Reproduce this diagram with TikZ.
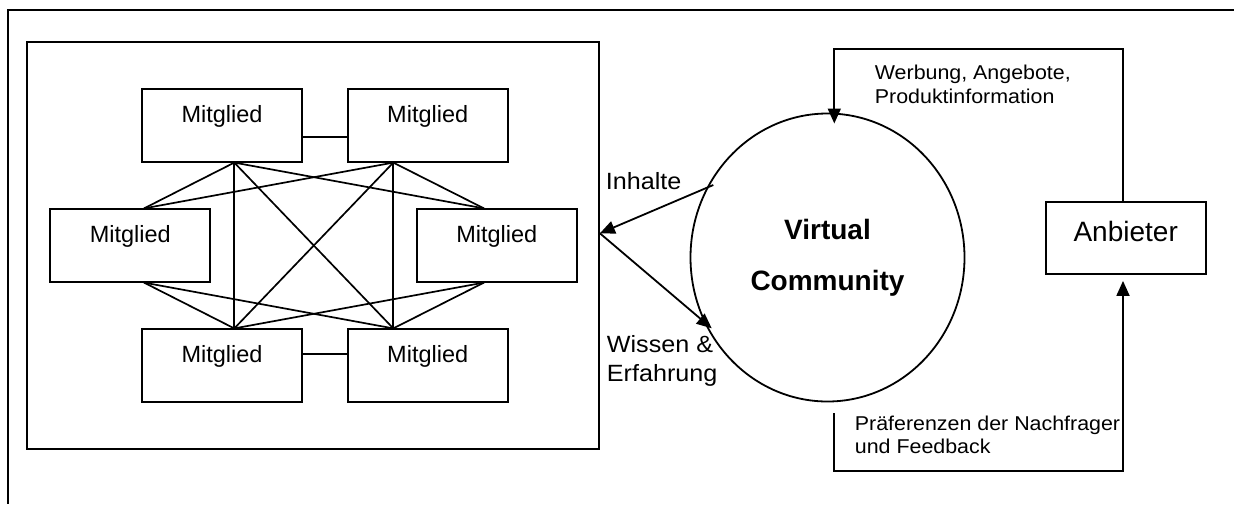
\documentclass[tikz,border=0pt]{standalone}
\usepackage{fontspec}
\setmainfont{Liberation Sans}
\newfontfamily\widefont[FakeStretch=1.07]{Liberation Sans}
\usetikzlibrary{arrows.meta,shapes.geometric}
\begin{document}
\begin{tikzpicture}[x=1pt,y=-1pt,
  line width=1.8pt,
  arr/.style={-{Triangle[length=15pt,width=13pt]}},
  mbox/.style={draw, rectangle, minimum width=160pt, minimum height=72.4pt,
    inner sep=0pt, font=\fontsize{23.5}{28}\selectfont,
    text height=17pt, text depth=22.6pt},
  abox/.style={draw, rectangle, minimum width=160pt, minimum height=71.7pt,
    inner sep=0pt, font=\fontsize{28}{32}\selectfont,
    text height=20pt, text depth=14.3pt},
  mesh/.style={line width=1.7pt},
  bigtxt/.style={inner sep=0pt, align=left, font=\widefont\fontsize{23.5}{28.3}\selectfont},
  smalltxt/.style={inner sep=0pt, align=left, font=\widefont\fontsize{20}{23.2}\selectfont}
]
\useasboundingbox (0,0) rectangle (1234,504);

% outer frame (open to the right and bottom)
\draw[line width=2pt] (1234,10) -- (8.3,10) -- (8.3,504);

% member group
\node[draw, rectangle, minimum width=572pt, minimum height=407.6pt, inner sep=0pt] (grp) at (313,245.5) {};

\node[mbox] (m1) at (222,125.5) {Mitglied};
\node[mbox] (m2) at (427.7,125.5) {Mitglied};
\node[mbox] (m3) at (130.3,245.5) {Mitglied};
\node[mbox] (m4) at (496.8,245.5) {Mitglied};
\node[mbox] (m5) at (222,365.5) {Mitglied};
\node[mbox] (m6) at (427.7,365.5) {Mitglied};

% attachment points
\coordinate (p1) at ([xshift=12.3pt]m1.south);
\coordinate (p2) at ([xshift=-34.4pt]m2.south);
\coordinate (p3t) at ([xshift=13.7pt]m3.north);
\coordinate (p3b) at ([xshift=13.7pt]m3.south);
\coordinate (p4t) at ([xshift=-12.8pt]m4.north);
\coordinate (p4b) at ([xshift=-12.8pt]m4.south);
\coordinate (p5) at ([xshift=12.3pt]m5.north);
\coordinate (p6) at ([xshift=-34.4pt]m6.north);

\draw[mesh] ([yshift=-11.5pt]m1.east) -- ([yshift=-11.5pt]m2.west);
\draw[mesh] ([yshift=11.8pt]m5.east) -- ([yshift=11.8pt]m6.west);

\draw[mesh] (p1) -- (p3t);
\draw[mesh] (p1) -- (p4t);
\draw[mesh] (p1) -- (p5);
\draw[mesh] (p1) -- (p6);
\draw[mesh] (p2) -- (p3t);
\draw[mesh] (p2) -- (p4t);
\draw[mesh] (p2) -- (p5);
\draw[mesh] (p2) -- (p6);
\draw[mesh] (p3b) -- (p5);
\draw[mesh] (p3b) -- (p6);
\draw[mesh] (p4b) -- (p5);
\draw[mesh] (p4b) -- (p6);

% virtual community
\node[draw, ellipse, minimum width=274pt, minimum height=288pt, inner sep=0pt,
  align=center, font=\bfseries\fontsize{28}{50.6}\selectfont] (vc) at (827.5,257.5) {Virtual\\Community};

\coordinate (gp) at ([yshift=12.2pt]grp.east);
\coordinate (ih) at (713.3,185);
\coordinate (wi) at (711.7,328.3);
\draw[arr] (ih) -- (gp);
\draw[arr] (gp) -- (wi);

\node[bigtxt, anchor=base west] (tinh) at (605,189.3) {Inhalte};
\node[bigtxt, anchor=north west] (twis) at (606,334.9) {Wissen \&\\Erfahrung};

% provider
\node[abox] (anb) at (1125.7,238.15) {Anbieter};

\coordinate (t1) at (834.3,49.3);
\coordinate (t2) at (834.3,123.5);
\draw[arr] ([xshift=-2.7pt]anb.north) |- (t1) -- (t2);

\coordinate (b1) at (834.3,413);
\coordinate (b2) at (834.3,470.7);
\draw[arr] (b1) -- (b2) -| ([xshift=-2.7pt,yshift=-6pt]anb.south);

\node[smalltxt, anchor=north west] (twer) at (874,64.6) {Werbung, Angebote,\\Produktinformation};
\node[smalltxt, anchor=north west] (tpra) at (854,415.3) {Präferenzen der Nachfrager\\und Feedback};
\end{tikzpicture}
\end{document}
